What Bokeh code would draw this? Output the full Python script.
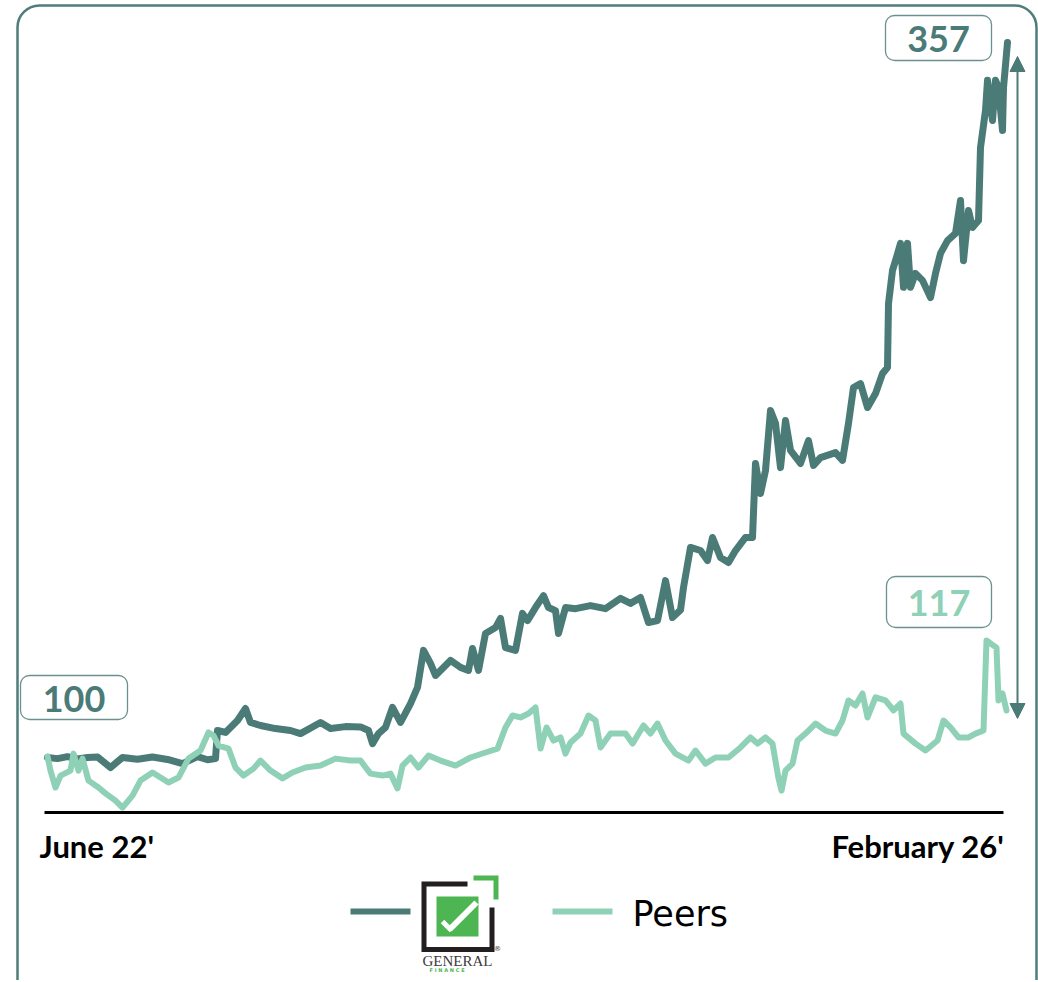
from bokeh.plotting import figure
from bokeh.models import BoxAnnotation, Label, Arrow, NormalHead, Range1d, ColumnDataSource
from bokeh.embed import file_html
from bokeh.resources import INLINE

# ---------------- data (trading-day index, indexed value, June 22' = 100) ----------------
gf_day = [0, 10, 20, 30, 40, 50, 63, 75, 90, 105,
          120, 135, 150, 160, 168, 170, 178, 190, 198, 203,
          213, 228, 243, 253, 273, 283, 298, 313, 321, 325,
          331, 338, 345, 353, 363, 370, 376, 383, 388, 403,
          413, 421, 425, 431, 438, 448, 453, 458, 468, 475,
          480, 488, 496, 501, 508, 511, 518, 528, 543, 558,
          573, 583, 593, 601, 610, 618, 625, 633, 636, 643,
          653, 660, 665, 673, 681, 688, 698, 705, 708, 713,
          718, 723, 728, 733, 738, 743, 753, 761, 766, 773,
          788, 795, 801, 806, 813, 820, 828, 835, 840, 841,
          845, 848, 853, 856, 860, 863, 868, 875, 883, 888,
          893, 900, 908, 913, 916, 921, 925, 931, 933, 938,
          940, 945, 948, 951, 955, 956, 960]
gf_val = [100, 99.6, 100.3, 99.5, 100, 100.2, 96.4, 100, 99.4, 100.2,
          99.3, 97.8, 100.3, 99.2, 99.6, 109.7, 109.0, 113.3, 117.6, 112.6,
          111.5, 110.4, 109.7, 108.6, 112.6, 110.4, 111.1, 111.0, 109.7, 105.0,
          108.6, 110.8, 118.0, 112.6, 119.4, 125.2, 138.5, 133.8, 129.5, 134.9,
          132.4, 131.3, 139.2, 131.3, 144.6, 146.7, 150.0, 139.5, 138.5, 151.8,
          149.2, 153.9, 158.2, 153.9, 152.8, 144.6, 153.9, 153.5, 154.6, 153.5,
          157.2, 155.4, 157.5, 148.5, 149.2, 163.6, 150.3, 153.0, 161.1, 175.5,
          174.4, 170.8, 179.1, 171.9, 170.1, 174.4, 179.1, 179.1, 205.7, 194.9,
          203.2, 224.7, 220.1, 204.2, 221.1, 210.4, 205.7, 213.9, 205.0, 207.8,
          209.6, 206.8, 220.1, 233.0, 234.4, 225.8, 230.8, 238.0, 240.2, 263.2,
          275.1, 278.6, 284.8, 269.0, 284.8, 269.0, 274.0, 271.5, 265.3, 274.0,
          281.2, 285.8, 288.4, 300.2, 278.6, 296.6, 290.5, 293.0, 319.3, 332.6,
          343.4, 329.0, 343.4, 340.8, 325.4, 340.8, 357.0]

peer_day = [0, 3, 8, 13, 23, 26, 31, 35, 41, 51,
            58, 68, 75, 85, 93, 105, 113, 121, 131, 141,
            153, 161, 166, 171, 181, 188, 196, 206, 213, 223,
            235, 245, 258, 273, 288, 303, 313, 318, 323, 335,
            343, 350, 355, 363, 371, 381, 393, 408, 423, 438,
            450, 458, 465, 473, 481, 488, 493, 499, 506, 513,
            518, 523, 533, 541, 548, 553, 563, 578, 585, 596,
            603, 610, 618, 628, 641, 648, 658, 668, 681, 693,
            703, 710, 718, 725, 731, 734, 738, 745, 750, 758,
            768, 778, 788, 795, 801, 808, 815, 820, 828, 838,
            846, 853, 856, 868, 878, 890, 896, 903, 911, 921,
            928, 936, 939, 943, 949, 951, 955, 959]
peer_val = [100.4, 95.3, 89.2, 93.5, 95.3, 101.4, 95.3, 99.6, 91.7, 89.2,
            87.1, 84.5, 82.0, 86.3, 91.7, 94.6, 92.8, 91.0, 92.8, 99.6,
            102.5, 109.0, 107.9, 104.3, 103.2, 96.4, 93.5, 96.0, 98.9, 95.3,
            92.5, 94.6, 96.4, 97.1, 99.6, 98.9, 98.9, 96.5, 94.2, 93.5,
            94.2, 88.9, 97.1, 100.0, 96.4, 100.7, 98.9, 97.1, 100.0, 101.8,
            103.2, 110.8, 115.1, 114.4, 115.8, 118.0, 103.2, 110.8, 106.1, 107.2,
            101.4, 105.4, 108.6, 115.1, 113.3, 103.6, 108.6, 108.6, 105.0, 111.5,
            108.6, 112.2, 106.1, 101.4, 98.9, 102.5, 97.8, 100.0, 100.0, 103.6,
            107.2, 105.0, 107.2, 105.0, 92.5, 88.1, 95.3, 97.8, 106.1, 108.6,
            112.2, 109.7, 108.6, 113.3, 120.5, 118.7, 123.0, 114.4, 121.6, 120.5,
            116.9, 119.4, 108.6, 105.0, 102.5, 106.1, 113.3, 110.8, 107.2, 107.2,
            108.6, 109.7, 142.1, 141.0, 139.5, 120.5, 123.0, 116.9]

start_label = "June 22'"
end_label = "February 26'"
series_names = ["GENERAL", "Peers"]

# ---------------- styling ----------------
DARK = "#4b7b77"
LIGHT = "#8fd1b6"
FRAME = "#4e7d7a"
BOX = "#6a918e"
LOGO_GREEN = "#4db551"

W, H = 1038, 980
ORG = 0  # page pixel where the figure starts
PX_PER_UNIT = 2.782
# page pixel -> data helpers
def X(px):
    return px - 47
def Y(py):
    return 100 + (757 - py) / PX_PER_UNIT

p = figure(width=W, height=H, output_backend="svg", toolbar_location=None,
           x_axis_type=None, y_axis_type=None,
           x_range=Range1d(X(ORG), X(ORG + W)), y_range=Range1d(Y(ORG + H), Y(ORG)),
           min_border=0, min_border_left=0, min_border_right=0,
           min_border_top=0, min_border_bottom=0)
p.grid.visible = False
p.outline_line_color = None
p.background_fill_color = "white"
p.border_fill_color = "white"

# outer rounded frame
p.add_layout(BoxAnnotation(left=X(17), right=X(1036), top=Y(5), bottom=Y(1010),
                           fill_color=None, fill_alpha=0, line_color=FRAME, line_alpha=1,
                           line_width=2.5, border_radius=22))

# series lines
gf_src = ColumnDataSource(dict(x=gf_day, y=gf_val))
peer_src = ColumnDataSource(dict(x=peer_day, y=peer_val))
p.line("x", "y", source=gf_src, line_color=DARK, line_width=7, line_join="round", line_cap="round")
p.line("x", "y", source=peer_src, line_color=LIGHT, line_width=6, line_join="round", line_cap="round")

# base line
p.line([gf_day[0] - 3, gf_day[-1] - 4], [Y(812), Y(812)], line_color="black", line_width=3)

# axis end labels
p.add_layout(Label(x=X(39), y=Y(845), text=start_label, text_align="left", text_baseline="middle",
                   text_font="Lato", text_font_size="31px", text_font_style="bold", text_color="black"))
p.add_layout(Label(x=X(1004), y=Y(845), text=end_label, text_align="right", text_baseline="middle",
                   text_font="Lato", text_font_size="31px", text_font_style="bold", text_color="black"))

# value boxes
def value_box(l, r, t, b, txt, color):
    p.add_layout(BoxAnnotation(left=X(l), right=X(r), top=Y(t), bottom=Y(b),
                               fill_color="white", fill_alpha=1, line_color=BOX, line_alpha=1,
                               line_width=1.3, border_radius=9))
    p.add_layout(Label(x=X((l + r) / 2), y=Y((t + b) / 2 + 1), text=txt, text_align="center",
                       text_baseline="middle", text_font="Lato", text_font_size="36px",
                       text_font_style="bold", text_color=color))

value_box(20, 127, 675, 719, f"{gf_val[0]:.0f}", DARK)
value_box(885, 991, 15, 60, f"{gf_val[-1]:.0f}", DARK)
value_box(886, 991, 576, 627, "117", LIGHT)

# double arrow
p.add_layout(Arrow(start=NormalHead(size=15, fill_color=DARK, line_color=DARK),
                   end=NormalHead(size=15, fill_color=DARK, line_color=DARK),
                   x_start=X(1017), y_start=Y(718), x_end=X(1017), y_end=Y(56),
                   line_color=DARK, line_width=2))

# legend
p.line([X(350), X(410)], [Y(911), Y(911)], line_color=DARK, line_width=6)
p.line([X(552), X(612)], [Y(911), Y(911)], line_color=LIGHT, line_width=6)
p.add_layout(Label(x=X(632), y=Y(913), text=series_names[1], text_align="left", text_baseline="middle",
                   text_font="DejaVu Sans", text_font_size="35px", text_color="black"))

# logo
p.line([X(467), X(423.5), X(423.5), X(491.5), X(491.5)],
       [Y(883.5), Y(883.5), Y(949), Y(949), Y(907)], line_color="#231f20", line_width=5,
       line_join="miter")
p.line([X(473), X(495.5), X(495.5)], [Y(877.5), Y(877.5), Y(899)], line_color=LOGO_GREEN,
       line_width=5, line_join="miter")
p.quad(left=[X(436)], right=[X(478)], top=[Y(896)], bottom=[Y(936)], fill_color=LOGO_GREEN,
       line_color=None)
p.line([X(449), X(476)], [Y(929), Y(902)], line_color="white", line_width=6)
p.line([X(442), X(451)], [Y(921), Y(930)], line_color="white", line_width=5)
p.add_layout(Label(x=X(457), y=Y(960), text=series_names[0], text_align="center", text_baseline="middle",
                   text_font="Liberation Serif", text_font_size="15px", text_color="#3a3a3a"))
p.add_layout(Label(x=X(457), y=Y(969), text="F   I   N   A   N   C   E", text_align="center",
                   text_baseline="middle", text_font="DejaVu Sans", text_font_size="5px",
                   text_font_style="bold", text_color=LOGO_GREEN))
p.add_layout(Label(x=X(497), y=Y(948), text="®", text_align="center", text_baseline="middle",
                   text_font="DejaVu Sans", text_font_size="7px", text_color="#3a3a3a"))

open("out.html", "w").write(file_html(p, INLINE))
